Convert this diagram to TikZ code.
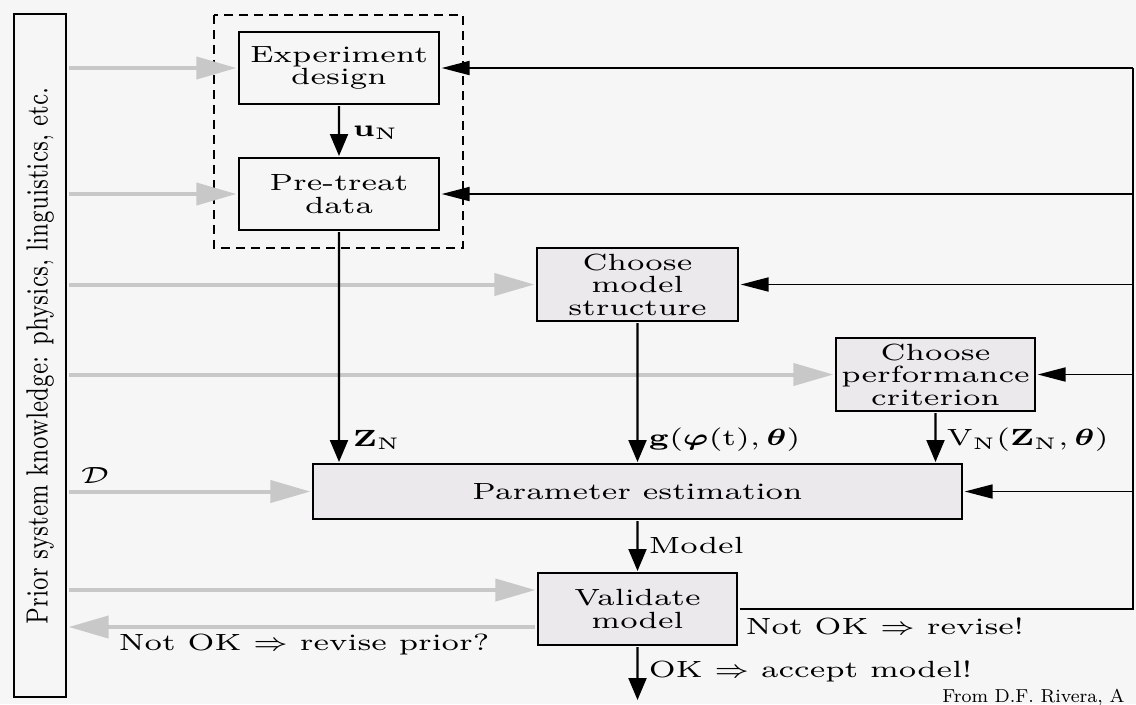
\documentclass[tikz,border=0pt]{standalone}
\usepackage{amsmath,amssymb}
\usetikzlibrary{arrows.meta}

\definecolor{bgcol}{RGB}{247,246,247}
\definecolor{boxfill}{RGB}{235,233,235}
\definecolor{inputgray}{RGB}{200,200,200}

\newcommand{\boxfont}{\fontsize{7}{6.7}\selectfont}

\tikzset{
  box/.style={draw, line width=1.2pt, inner sep=0pt, align=center, font=\boxfont, xscale=1.87, yscale=1.4286, transform shape},
  grey box/.style={box, fill=boxfill},
  lbl/.style={anchor=west, inner sep=0pt, font=\boxfont, xscale=1.87, yscale=1.4286, transform shape},
  fwd/.style={line width=0.9pt, -{Triangle[length=0.33cm,width=0.27cm]}},
  feedback/.style={line width=0.8pt, -{Triangle[length=0.42cm,width=0.21cm]}},
  inflow/.style={draw=inputgray, line width=1.7pt, -{Triangle[length=0.6cm,width=0.33cm]}}
}

\begin{document}
\begin{tikzpicture}[x=0.015cm, y=-0.015cm]
                            \useasboundingbox (0,0) rectangle (1136,704);
                            \fill[bgcol] (0,0) rectangle (1136,704);
                            \draw[line width=0.9pt, dash pattern=on 3.8pt off 2.6pt] (214,15) rectangle (463,248);

                            \node[box, minimum width=1.6043cm, minimum height=0.756cm] (exp) at (339,68) {Experiment\\design};
                            \node[box, minimum width=1.6043cm, minimum height=0.756cm] (pre) at (339,194) {Pre-treat\\data};
                            \node[grey box, minimum width=1.6123cm, minimum height=0.7665cm] (struct) at (637.5,284.5) {Choose\\model\\structure};
                            \node[grey box, minimum width=1.5963cm, minimum height=0.7665cm] (crit) at (935.5,374.5) {Choose\\performance\\criterion};
                            \node[grey box, minimum width=5.2059cm, minimum height=0.5775cm] (est) at (637.5,491.5) {Parameter estimation};
                            \node[grey box, minimum width=1.5963cm, minimum height=0.756cm] (valid) at (637.5,609) {Validate\\model};
                            \node[draw, line width=1.2pt, inner sep=0pt, minimum width=7.6455cm, minimum height=0.4171cm, font=\boxfont, xscale=1.87, yscale=1.34, rotate=90, transform shape] (prior) at (40,355.5) {Prior system knowledge: physics, linguistics, etc.};

                            % prior knowledge going in
                            \coordinate (vin) at (66,590);
                            \coordinate (vout) at (66,627);
                            \draw[inflow] (prior.south |- exp.west) -- (exp.west);
                            \draw[inflow] (prior.south |- pre.west) -- (pre.west);
                            \draw[inflow] (prior.south |- struct.west) -- (struct.west);
                            \draw[inflow] (prior.south |- crit.west) -- (crit.west);
                            \draw[inflow] (prior.south |- est.west) -- (est.west);
                            \draw[inflow] (vin -| prior.south) -- (vin -| valid.west);
                            \draw[inflow] (vout -| valid.west) -- (vout -| prior.south);

                            % main flow
                            \coordinate (accept) at (637.5,700);
                            \draw[fwd] (exp) -- (pre);
                            \draw[fwd] (pre) -- (pre |- est.north);
                            \draw[fwd] (struct) -- (struct |- est.north);
                            \draw[fwd] (crit) -- (crit |- est.north);
                            \draw[fwd] (est) -- (valid);
                            \draw[fwd] (valid) -- (accept);

                            % revise loop
                            \coordinate (fbtop) at (1133,68);
                            \coordinate (fbbot) at (1133,609);
                            \draw[line width=0.8pt] (valid.east) -- (fbbot) -- (fbtop);
                            \draw[feedback] (fbtop) -- (exp.east);
                            \draw[feedback] (fbtop |- pre.east) -- (pre.east);
                            \draw[feedback] (fbtop |- struct.east) -- (struct.east);
                            \draw[feedback] (fbtop |- crit.east) -- (crit.east);
                            \draw[feedback] (fbtop |- est.east) -- (est.east);

                            \node[lbl] (un) at (352,133) {$\mathbf{u}_{\mathrm{N}}$};
                            \node[lbl] (zn) at (352,440) {$\mathbf{Z}_{\mathrm{N}}$};
                            \node[lbl] (gfun) at (648,440) {$\mathbf{g}(\boldsymbol{\varphi}(\mathrm{t}),\boldsymbol{\theta})$};
                            \node[lbl] (vfun) at (946,440) {$\mathrm{V}_{\mathrm{N}}(\mathbf{Z}_{\mathrm{N}},\boldsymbol{\theta})$};
                            \node[lbl] (dset) at (80,475) {$\mathcal{D}$};
                            \node[lbl] (mdl) at (648,545) {Model};
                            \node[lbl] (revise) at (745,626) {Not OK $\Rightarrow$ revise!};
                            \node[lbl] (ok) at (648,671) {OK $\Rightarrow$ accept model!};
                            \node[lbl] (revprior) at (118,645) {Not OK $\Rightarrow$ revise prior?};
                            \node[anchor=base west, inner sep=0pt, font=\fontsize{8}{8}\selectfont] (src) at (942,702) {From D.F. Rivera, A};
                        \end{tikzpicture}
\end{document}
